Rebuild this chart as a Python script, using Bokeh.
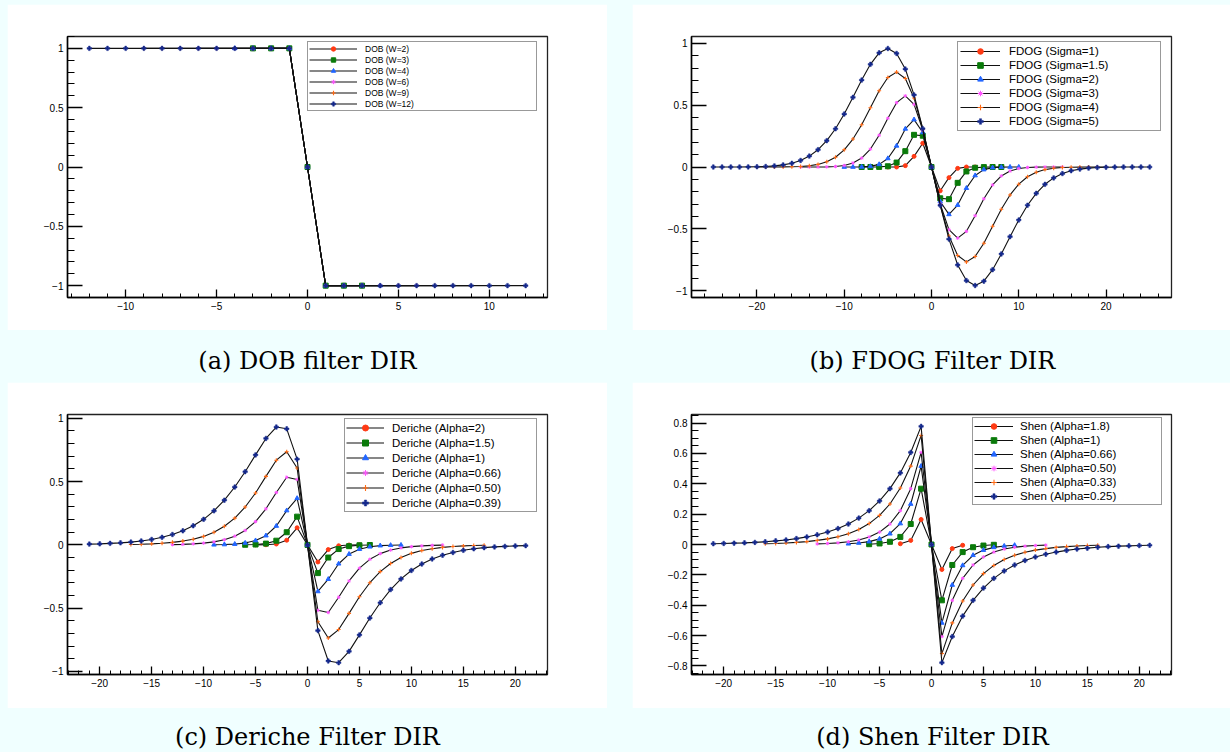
from bokeh.plotting import figure
from bokeh.models import (Range1d, SingleIntervalTicker, CustomJSTickFormatter,
                          Legend, LegendItem, Label, Spacer)
from bokeh.layouts import column, row
from bokeh.embed import file_html
from bokeh.resources import INLINE

BG = "#f0ffff"
FONT = "Liberation Sans"

# ---------------- (a) DOB filter DIR ----------------
dob_labels = ["DOB (W=2)", "DOB (W=3)", "DOB (W=4)", "DOB (W=6)", "DOB (W=9)", "DOB (W=12)"]
dob_x_w2 = list(range(-2, 3))
dob_x_w3 = list(range(-3, 4))
dob_x_w4 = list(range(-4, 5))
dob_x_w6 = list(range(-6, 7))
dob_x_w9 = list(range(-9, 10))
dob_x_w12 = list(range(-12, 13))
dob_y_w2 = [1, 1, 0, -1, -1]
dob_y_w3 = [1, 1, 1, 0, -1, -1, -1]
dob_y_w4 = [1, 1, 1, 1, 0, -1, -1, -1, -1]
dob_y_w6 = [1, 1, 1, 1, 1, 1, 0, -1, -1, -1, -1, -1, -1]
dob_y_w9 = [1, 1, 1, 1, 1, 1, 1, 1, 1, 0, -1, -1, -1, -1, -1, -1, -1, -1, -1]
dob_y_w12 = [1, 1, 1, 1, 1, 1, 1, 1, 1, 1, 1, 1, 0,
             -1, -1, -1, -1, -1, -1, -1, -1, -1, -1, -1, -1]

# ---------------- (b) FDOG filter DIR ----------------
fdog_labels = ["FDOG (Sigma=1)", "FDOG (Sigma=1.5)", "FDOG (Sigma=2)",
               "FDOG (Sigma=3)", "FDOG (Sigma=4)", "FDOG (Sigma=5)"]
fdog_x_s1 = list(range(-5, 6))
fdog_x_s15 = list(range(-8, 9))
fdog_x_s2 = list(range(-10, 11))
fdog_x_s3 = list(range(-15, 16))
fdog_x_s4 = list(range(-20, 21))
fdog_x_s5 = list(range(-25, 26))
fdog_y_s1 = [0.0, 0.0, 0.011, 0.086, 0.192, 0.0, -0.192, -0.086, -0.011, 0.0, 0.0]
fdog_y_s15 = [0.0, 0.0, 0.001, 0.006, 0.036, 0.128, 0.26, 0.253, 0.0,
              -0.253, -0.26, -0.128, -0.036, -0.006, -0.001, 0.0, 0.0]
fdog_y_s2 = [0.0, 0.0, 0.001, 0.005, 0.021, 0.069, 0.171, 0.308, 0.383, 0.279, 0.0,
             -0.279, -0.383, -0.308, -0.171, -0.069, -0.021, -0.005, -0.001, 0.0, 0.0]
fdog_y_s3 = [0.0, 0.0, 0.0, 0.001, 0.004, 0.012, 0.032, 0.072, 0.145, 0.257, 0.394, 0.52,
             0.575, 0.506, 0.299, 0.0, -0.299, -0.506, -0.575, -0.52, -0.394, -0.257,
             -0.145, -0.072, -0.032, -0.012, -0.004, -0.001, 0.0, 0.0, 0.0]
fdog_y_s4 = [0.0, 0.0, 0.0, 0.001, 0.002, 0.004, 0.01, 0.021, 0.042, 0.079, 0.139, 0.226,
             0.342, 0.479, 0.616, 0.723, 0.767, 0.716, 0.558, 0.306, 0.0, -0.306, -0.558,
             -0.716, -0.767, -0.723, -0.616, -0.479, -0.342, -0.226, -0.139, -0.079,
             -0.042, -0.021, -0.01, -0.004, -0.002, -0.001, 0.0, 0.0, 0.0]
fdog_y_s5 = [0.0, 0.0, 0.0, 0.0, 0.001, 0.002, 0.004, 0.009, 0.017, 0.03, 0.053, 0.088,
             0.14, 0.213, 0.309, 0.428, 0.563, 0.703, 0.83, 0.923, 0.958, 0.918, 0.792,
             0.583, 0.31, 0.0, -0.31, -0.583, -0.792, -0.918, -0.958, -0.923, -0.83,
             -0.703, -0.563, -0.428, -0.309, -0.213, -0.14, -0.088, -0.053, -0.03,
             -0.017, -0.009, -0.004, -0.002, -0.001, 0.0, 0.0, 0.0, 0.0]

# ---------------- (c) Deriche filter DIR ----------------
der_labels = ["Deriche (Alpha=2)", "Deriche (Alpha=1.5)", "Deriche (Alpha=1)",
              "Deriche (Alpha=0.66)", "Deriche (Alpha=0.50)", "Deriche (Alpha=0.39)"]
der_x_a2 = list(range(-5, 6))
der_x_a15 = list(range(-6, 7))
der_x_a1 = list(range(-9, 10))
der_x_a066 = list(range(-13, 14))
der_x_a05 = list(range(-17, 18))
der_x_a039 = list(range(-21, 22))
der_y_a2 = [0.0, 0.001, 0.007, 0.037, 0.135, 0.0, -0.135, -0.037, -0.007, -0.001, 0.0]
der_y_a15 = [0.001, 0.003, 0.01, 0.033, 0.1, 0.223, 0.0,
             -0.223, -0.1, -0.033, -0.01, -0.003, -0.001]
der_y_a1 = [0.001, 0.003, 0.006, 0.015, 0.034, 0.073, 0.149, 0.271, 0.368, 0.0,
            -0.368, -0.271, -0.149, -0.073, -0.034, -0.015, -0.006, -0.003, -0.001]
der_y_a066 = [0.002, 0.004, 0.008, 0.014, 0.024, 0.041, 0.069, 0.114, 0.184, 0.285, 0.414,
              0.534, 0.517, 0.0, -0.517, -0.534, -0.414, -0.285, -0.184, -0.114, -0.069,
              -0.041, -0.024, -0.014, -0.008, -0.004, -0.002]
der_y_a05 = [0.003, 0.005, 0.008, 0.013, 0.02, 0.03, 0.045, 0.067, 0.1, 0.147, 0.211, 0.299,
             0.41, 0.541, 0.669, 0.736, 0.607, 0.0, -0.607, -0.736, -0.669, -0.541, -0.41,
             -0.299, -0.211, -0.147, -0.1, -0.067, -0.045, -0.03, -0.02, -0.013, -0.008,
             -0.005, -0.003]
der_y_a039 = [0.006, 0.008, 0.012, 0.016, 0.022, 0.031, 0.043, 0.06, 0.082, 0.111, 0.151,
              0.202, 0.269, 0.353, 0.457, 0.578, 0.711, 0.841, 0.931, 0.917, 0.677, 0.0,
              -0.677, -0.917, -0.931, -0.841, -0.711, -0.578, -0.457, -0.353, -0.269,
              -0.202, -0.151, -0.111, -0.082, -0.06, -0.043, -0.031, -0.022, -0.016,
              -0.012, -0.008, -0.006]

# ---------------- (d) Shen filter DIR ----------------
shen_labels = ["Shen (Alpha=1.8)", "Shen (Alpha=1)", "Shen (Alpha=0.66)",
               "Shen (Alpha=0.50)", "Shen (Alpha=0.33)", "Shen (Alpha=0.25)"]
shen_x_a18 = list(range(-3, 4))
shen_x_a1 = list(range(-6, 7))
shen_x_a066 = list(range(-8, 9))
shen_x_a05 = list(range(-11, 12))
shen_x_a033 = list(range(-16, 17))
shen_x_a025 = list(range(-21, 22))
shen_y_a18 = [0.005, 0.027, 0.165, 0.0, -0.165, -0.027, -0.005]
shen_y_a1 = [0.002, 0.007, 0.018, 0.05, 0.135, 0.368, 0.0,
             -0.368, -0.135, -0.05, -0.018, -0.007, -0.002]
shen_y_a066 = [0.005, 0.01, 0.019, 0.037, 0.071, 0.138, 0.267, 0.517, 0.0,
               -0.517, -0.267, -0.138, -0.071, -0.037, -0.019, -0.01, -0.005]
shen_y_a05 = [0.004, 0.007, 0.011, 0.018, 0.03, 0.05, 0.082, 0.135, 0.223, 0.368, 0.607, 0.0,
              -0.607, -0.368, -0.223, -0.135, -0.082, -0.05, -0.03, -0.018, -0.011,
              -0.007, -0.004]
shen_y_a033 = [0.005, 0.007, 0.01, 0.014, 0.019, 0.027, 0.037, 0.051, 0.071, 0.099, 0.138,
               0.192, 0.267, 0.372, 0.517, 0.719, 0.0, -0.719, -0.517, -0.372, -0.267,
               -0.192, -0.138, -0.099, -0.071, -0.051, -0.037, -0.027, -0.019, -0.014,
               -0.01, -0.007, -0.005]
shen_y_a025 = [0.005, 0.007, 0.009, 0.011, 0.014, 0.018, 0.024, 0.03, 0.039, 0.05, 0.064,
               0.082, 0.105, 0.135, 0.174, 0.223, 0.287, 0.368, 0.472, 0.607, 0.779, 0.0,
               -0.779, -0.607, -0.472, -0.368, -0.287, -0.223, -0.174, -0.135, -0.105,
               -0.082, -0.064, -0.05, -0.039, -0.03, -0.024, -0.018, -0.014, -0.011,
               -0.009, -0.007, -0.005]

captions = ["(a) DOB filter DIR", "(b) FDOG Filter DIR",
            "(c) Deriche Filter DIR", "(d) Shen Filter DIR"]

# ---------------- styling ----------------
COLORS = ["#ff3a14", "#0a7a0a", "#2266ff", "#ff55ff", "#ff6a14", "#14288c"]
MARKERS = ["circle", "square", "triangle", "asterisk", "cross", "plus"]
SIZES = [4, 5, 4.5, 3.5, 4, 4.5]
LWS = [1.0, 1.0, 1.0, 1.0, 1.1, 0.5]

TICK_JS = """
const v = Math.round(tick * 1000) / 1000;
if (v == 0) { return "0"; }
return (v < 0 ? "\u2212" : "") + Math.abs(v).toString();
"""


def make_panel(series, labels, xr, yr, x_int, y_int, y_minor, w, h,
               bl, br, bt, bb, leg):
    p = figure(width=w, height=h, x_range=Range1d(*xr), y_range=Range1d(*yr),
               output_backend="svg", toolbar_location=None, title=None,
               min_border_left=bl, min_border_right=br, min_border_top=bt,
               min_border_bottom=bb, background_fill_color="white",
               border_fill_color="white", outline_line_color="#222222",
               outline_line_width=1.3)
    p.grid.visible = False
    xa = p.xaxis[0]
    ya = p.yaxis[0]
    xa.ticker = SingleIntervalTicker(interval=x_int, num_minor_ticks=5)
    ya.ticker = SingleIntervalTicker(interval=y_int, num_minor_ticks=y_minor)
    for ax in (xa, ya):
        ax.formatter = CustomJSTickFormatter(code=TICK_JS)
        ax.major_label_text_font = FONT
        ax.major_label_text_font_size = "10px"
        ax.major_label_text_color = "#000000"
        ax.axis_line_color = "#000000"
        ax.axis_line_width = 1.5
        ax.major_tick_line_color = "#000000"
        ax.minor_tick_line_color = "#000000"
        ax.major_tick_line_width = 1.3
        ax.minor_tick_line_width = 1.0
        ax.major_tick_out = 0
        ax.minor_tick_out = 0
        ax.major_label_standoff = 4
    xa.major_tick_in = 8
    xa.minor_tick_in = 4
    ya.major_tick_in = 15
    ya.minor_tick_in = 7
    items = []
    for i, (xs, ys) in enumerate(series):
        lr = p.line(xs, ys, line_color="#111111", line_width=1.1)
        sr = p.scatter(xs, ys, marker=MARKERS[i], size=SIZES[i],
                       fill_color=COLORS[i], line_color=COLORS[i], line_width=LWS[i])
        items.append(LegendItem(label=labels[i], renderers=[lr, sr]))
    legend = Legend(items=items, location=leg["loc"], padding=leg["pad"],
                    spacing=0, margin=0, label_height=leg["lh"],
                    glyph_height=leg["lh"], glyph_width=leg["gw"],
                    label_standoff=leg["so"], label_width=leg["lw"],
                    label_text_font=FONT, label_text_font_size=leg["fs"],
                    label_text_color="#000000",
                    border_line_color="#333333", border_line_width=1.5,
                    background_fill_color="white", background_fill_alpha=1.0)
    p.add_layout(legend)
    return p


def make_caption(text, w, h, cx, cy):
    c = figure(width=w, height=h, x_range=Range1d(0, 1), y_range=Range1d(0, 1),
               output_backend="svg", toolbar_location=None, title=None,
               min_border=0, x_axis_type=None, y_axis_type=None,
               background_fill_color=BG, border_fill_color=BG,
               outline_line_color=None)
    c.grid.visible = False
    c.add_layout(Label(x=cx, y=cy, x_units="screen", y_units="screen", text=text,
                       text_align="center", text_baseline="middle",
                       text_font="DejaVu Serif", text_font_size="24px",
                       text_color="#000000"))
    return c


pa = make_panel(
    [(dob_x_w2, dob_y_w2), (dob_x_w3, dob_y_w3), (dob_x_w4, dob_y_w4),
     (dob_x_w6, dob_y_w6), (dob_x_w9, dob_y_w9), (dob_x_w12, dob_y_w12)],
    dob_labels, (-13.2, 13.2), (-1.1, 1.1), 5, 0.5, 5,
    600, 326, 60, 60, 32, 33,
    dict(loc=(240, 186), pad=1, lh=11, gw=48, so=8, lw=170, fs="8.5px"))

pb = make_panel(
    [(fdog_x_s1, fdog_y_s1), (fdog_x_s15, fdog_y_s15), (fdog_x_s2, fdog_y_s2),
     (fdog_x_s3, fdog_y_s3), (fdog_x_s4, fdog_y_s4), (fdog_x_s5, fdog_y_s5)],
    fdog_labels, (-27.5, 27.5), (-1.055, 1.055), 10, 0.5, 5,
    598, 326, 59, 59, 32, 33,
    dict(loc=(266, 166), pad=2, lh=14, gw=40, so=9, lw=149, fs="11.5px"))

pc = make_panel(
    [(der_x_a2, der_y_a2), (der_x_a15, der_y_a15), (der_x_a1, der_y_a1),
     (der_x_a066, der_y_a066), (der_x_a05, der_y_a05), (der_x_a039, der_y_a039)],
    der_labels, (-23.1, 23.1), (-1.024, 1.03), 5, 0.5, 5,
    600, 326, 60, 60, 32, 34,
    dict(loc=(277, 162), pad=1, lh=15, gw=38, so=8, lw=143, fs="11.5px"))

pd_ = make_panel(
    [(shen_x_a18, shen_y_a18), (shen_x_a1, shen_y_a1), (shen_x_a066, shen_y_a066),
     (shen_x_a05, shen_y_a05), (shen_x_a033, shen_y_a033), (shen_x_a025, shen_y_a025)],
    shen_labels, (-23.1, 23.1), (-0.857, 0.857), 5, 0.2, 4,
    598, 326, 59, 59, 31, 34,
    dict(loc=(281, 169), pad=1, lh=14, gw=39, so=7, lw=140, fs="11.5px"))

ca = make_caption(captions[0], 600, 52, 300, 22)
cb = make_caption(captions[1], 598, 52, 300, 22)
cc = make_caption(captions[2], 600, 44, 300, 16)
cd = make_caption(captions[3], 598, 44, 300, 16)

sty = {"background-color": BG}


def sp(w, h):
    return Spacer(width=w, height=h, styles=sty)


layout = column(
    sp(1230, 4),
    row(sp(7, 326), pa, sp(25, 326), pb, styles=sty),
    row(sp(7, 52), ca, sp(25, 52), cb, styles=sty),
    row(sp(7, 326), pc, sp(25, 326), pd_, styles=sty),
    row(sp(7, 44), cc, sp(25, 44), cd, styles=sty),
    styles=sty,
)

open("out.html", "w").write(file_html(layout, INLINE))
